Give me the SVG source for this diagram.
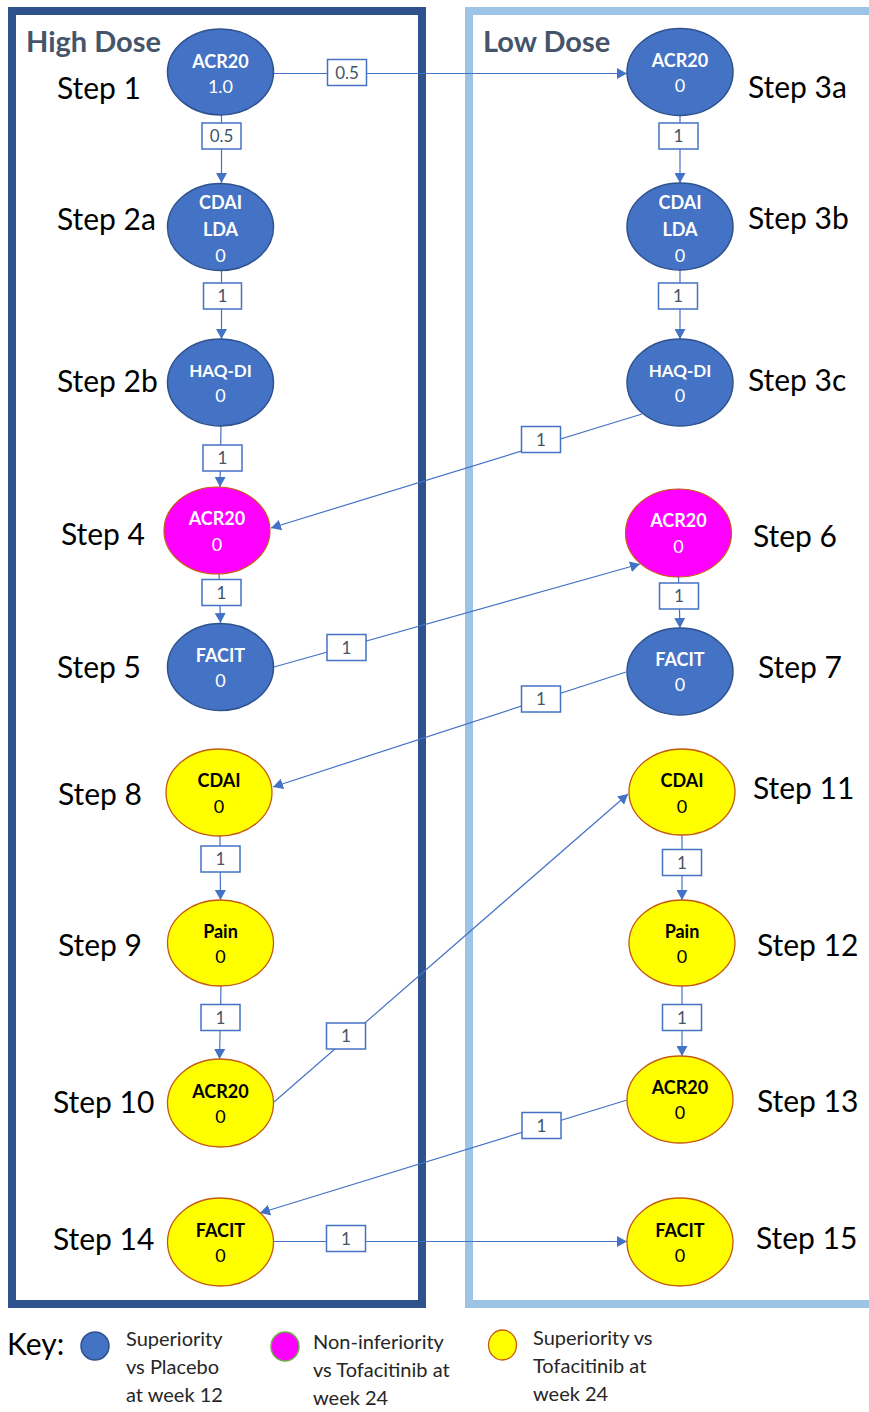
<svg xmlns="http://www.w3.org/2000/svg" width="869" height="1412" viewBox="0 0 869 1412">
<style>
text{font-family:Lato,"Liberation Sans",sans-serif}
.hd{font-size:29px;font-weight:bold;fill:#44546a}
.step{font-size:30px;fill:#000}
.blue{fill:#4472c4;stroke:#2f528f;stroke-width:1.5}
.mag{fill:#ff00ff;stroke:#c55a11;stroke-width:1.2}
.yel{fill:#ffff00;stroke:#c55a11;stroke-width:1.3}
.tw{font-size:18px;font-weight:bold;fill:#fff;text-anchor:middle}
.tws{font-size:17px;font-weight:bold;fill:#fff;text-anchor:middle}
.vw{font-size:18px;fill:#fff;text-anchor:middle}
.tb{font-size:18px;font-weight:bold;fill:#000;text-anchor:middle}
.vb{font-size:18px;fill:#000;text-anchor:middle}
.ln{stroke:#4472c4;stroke-width:1.2;fill:none;marker-end:url(#ah)}
.lb rect{fill:#fff;stroke:#4472c4;stroke-width:1.5}
.lb text{font-size:17px;fill:#44546a;text-anchor:middle}
.key{font-size:20px;fill:#262626}
</style>
<defs>
<marker id="ah" markerUnits="userSpaceOnUse" markerWidth="11" markerHeight="11" refX="10" refY="5.5" orient="auto">
<path d="M0,0 L10,5.5 L0,11 z" fill="#4472c4"/>
</marker>
</defs>
<rect width="869" height="1412" fill="#fff"/>
<g id="high-dose">
<rect x="12" y="11" width="410" height="1293" fill="none" stroke="#2f528f" stroke-width="8"/>
<text class="hd" x="26" y="52">High Dose</text>
</g>
<g id="low-dose">
<rect x="469" y="11" width="420" height="1293" fill="none" stroke="#9dc3e6" stroke-width="8"/>
<text class="hd" x="483" y="52">Low Dose</text>
</g>
<g id="connectors">
<line class="ln" x1="274" y1="73.5" x2="627" y2="73.5"/>
<line class="ln" x1="221.5" y1="115" x2="221.5" y2="183"/>
<line class="ln" x1="221.5" y1="270" x2="221.5" y2="339"/>
<line class="ln" x1="221" y1="426" x2="220" y2="487"/>
<line class="ln" x1="642" y1="414" x2="271" y2="528"/>
<line class="ln" x1="219" y1="574" x2="220.5" y2="623"/>
<line class="ln" x1="274" y1="667" x2="640" y2="564"/>
<line class="ln" x1="678.5" y1="577" x2="680" y2="628"/>
<line class="ln" x1="626" y1="672" x2="273" y2="787"/>
<line class="ln" x1="220" y1="836" x2="220.5" y2="900"/>
<line class="ln" x1="221" y1="986" x2="219.5" y2="1059"/>
<line class="ln" x1="274" y1="1102" x2="628" y2="794"/>
<line class="ln" x1="680" y1="115" x2="680" y2="183"/>
<line class="ln" x1="680" y1="270" x2="680" y2="339"/>
<line class="ln" x1="682" y1="835" x2="682" y2="900"/>
<line class="ln" x1="682" y1="986" x2="682" y2="1056"/>
<line class="ln" x1="627" y1="1100" x2="260" y2="1213"/>
<line class="ln" x1="274" y1="1241.5" x2="627" y2="1241.5"/>
<g class="lb"><rect x="327.5" y="59.5" width="39" height="26"/><text x="347" y="78.5">0.5</text></g>
<g class="lb"><rect x="202" y="123" width="39" height="26"/><text x="221.5" y="142">0.5</text></g>
<g class="lb"><rect x="203.5" y="283" width="38" height="26"/><text x="222.5" y="302">1</text></g>
<g class="lb"><rect x="203" y="445" width="39" height="26"/><text x="222.5" y="464">1</text></g>
<g class="lb"><rect x="202" y="579.5" width="39" height="26"/><text x="221.5" y="598.5">1</text></g>
<g class="lb"><rect x="327" y="634.5" width="39" height="26"/><text x="346.5" y="653.5">1</text></g>
<g class="lb"><rect x="201" y="846" width="39" height="26"/><text x="220.5" y="865">1</text></g>
<g class="lb"><rect x="201" y="1004.5" width="39" height="26"/><text x="220.5" y="1023.5">1</text></g>
<g class="lb"><rect x="326.5" y="1023" width="39" height="26"/><text x="346" y="1042">1</text></g>
<g class="lb"><rect x="326.5" y="1225.5" width="39" height="26"/><text x="346" y="1244.5">1</text></g>
<g class="lb"><rect x="659" y="123" width="39" height="26"/><text x="678.5" y="142">1</text></g>
<g class="lb"><rect x="658.5" y="283" width="39" height="26"/><text x="678" y="302">1</text></g>
<g class="lb"><rect x="521.5" y="426.5" width="39" height="26"/><text x="541" y="445.5">1</text></g>
<g class="lb"><rect x="659.5" y="583" width="39" height="26"/><text x="679" y="602">1</text></g>
<g class="lb"><rect x="521.5" y="686" width="39" height="26"/><text x="541" y="705">1</text></g>
<g class="lb"><rect x="662.5" y="849.5" width="39" height="26"/><text x="682" y="868.5">1</text></g>
<g class="lb"><rect x="662.5" y="1004.5" width="39" height="26"/><text x="682" y="1023.5">1</text></g>
<g class="lb"><rect x="522" y="1112.5" width="39" height="26"/><text x="541.5" y="1131.5">1</text></g>
</g>
<g id="step1"><ellipse class="blue" cx="220.5" cy="72" rx="53" ry="43"/><text class="tw" x="220.5" y="68">ACR20</text><text class="vw" x="220.5" y="93">1.0</text><text class="step" x="57" y="99">Step 1</text></g>
<g id="step2a"><ellipse class="blue" cx="220.5" cy="227" rx="53" ry="43.5"/><text class="tw" x="220.5" y="209">CDAI</text><text class="tw" x="220.5" y="236">LDA</text><text class="vw" x="220.5" y="262">0</text><text class="step" x="57" y="230">Step 2a</text></g>
<g id="step2b"><ellipse class="blue" cx="220.5" cy="382.5" rx="53" ry="43.5"/><text class="tws" x="220.5" y="377">HAQ-DI</text><text class="vw" x="220.5" y="402">0</text><text class="step" x="57" y="392">Step 2b</text></g>
<g id="step4"><ellipse class="mag" cx="217" cy="530.5" rx="53" ry="43.5"/><text class="tw" x="217" y="525">ACR20</text><text class="vw" x="217" y="551">0</text><text class="step" x="61" y="545">Step 4</text></g>
<g id="step5"><ellipse class="blue" cx="220.5" cy="667" rx="53" ry="43.5"/><text class="tw" x="220.5" y="662">FACIT</text><text class="vw" x="220.5" y="687">0</text><text class="step" x="57" y="678">Step 5</text></g>
<g id="step8"><ellipse class="yel" cx="219" cy="792.5" rx="53" ry="43.5"/><text class="tb" x="219" y="787">CDAI</text><text class="vb" x="219" y="813">0</text><text class="step" x="58" y="805">Step 8</text></g>
<g id="step9"><ellipse class="yel" cx="220.5" cy="943" rx="53" ry="43"/><text class="tb" x="220.5" y="938">Pain</text><text class="vb" x="220.5" y="963">0</text><text class="step" x="58" y="956">Step 9</text></g>
<g id="step10"><ellipse class="yel" cx="220.5" cy="1103" rx="53" ry="44"/><text class="tb" x="220.5" y="1098">ACR20</text><text class="vb" x="220.5" y="1123">0</text><text class="step" x="53" y="1113">Step 10</text></g>
<g id="step14"><ellipse class="yel" cx="220.5" cy="1242" rx="53" ry="44"/><text class="tb" x="220.5" y="1237">FACIT</text><text class="vb" x="220.5" y="1262">0</text><text class="step" x="53" y="1250">Step 14</text></g>
<g id="step3a"><ellipse class="blue" cx="680" cy="72" rx="53" ry="43.5"/><text class="tw" x="680" y="67">ACR20</text><text class="vw" x="680" y="92">0</text><text class="step" x="748" y="98">Step 3a</text></g>
<g id="step3b"><ellipse class="blue" cx="680" cy="226.5" rx="53" ry="43.5"/><text class="tw" x="680" y="209">CDAI</text><text class="tw" x="680" y="236">LDA</text><text class="vw" x="680" y="262">0</text><text class="step" x="748" y="229">Step 3b</text></g>
<g id="step3c"><ellipse class="blue" cx="680" cy="382.5" rx="53" ry="43.5"/><text class="tws" x="680" y="377">HAQ-DI</text><text class="vw" x="680" y="402">0</text><text class="step" x="748" y="391">Step 3c</text></g>
<g id="step6"><ellipse class="mag" cx="678.5" cy="533" rx="53" ry="44"/><text class="tw" x="678.5" y="527">ACR20</text><text class="vw" x="678.5" y="553">0</text><text class="step" x="753" y="547">Step 6</text></g>
<g id="step7"><ellipse class="blue" cx="680" cy="671.5" rx="53" ry="43.5"/><text class="tw" x="680" y="666">FACIT</text><text class="vw" x="680" y="691">0</text><text class="step" x="758" y="678">Step 7</text></g>
<g id="step11"><ellipse class="yel" cx="682" cy="792" rx="53" ry="43"/><text class="tb" x="682" y="787">CDAI</text><text class="vb" x="682" y="813">0</text><text class="step" x="753" y="799">Step 11</text></g>
<g id="step12"><ellipse class="yel" cx="682" cy="943" rx="53" ry="43"/><text class="tb" x="682" y="938">Pain</text><text class="vb" x="682" y="963">0</text><text class="step" x="757" y="956">Step 12</text></g>
<g id="step13"><ellipse class="yel" cx="680" cy="1099.5" rx="53" ry="43.5"/><text class="tb" x="680" y="1094">ACR20</text><text class="vb" x="680" y="1119">0</text><text class="step" x="757" y="1112">Step 13</text></g>
<g id="step15"><ellipse class="yel" cx="680" cy="1242" rx="53" ry="44"/><text class="tb" x="680" y="1237">FACIT</text><text class="vb" x="680" y="1262">0</text><text class="step" x="756" y="1249">Step 15</text></g>
<g id="key">
<text x="7" y="1355" style="font-size:30px;fill:#000">Key:</text>
<ellipse class="blue" cx="95" cy="1346" rx="14" ry="14"/>
<text class="key" x="126" y="1346">Superiority</text>
<text class="key" x="126" y="1374">vs Placebo</text>
<text class="key" x="126" y="1402">at week 12</text>
<ellipse cx="285" cy="1346.5" rx="14" ry="14.5" fill="#ff00ff" stroke="#70ad47" stroke-width="1.5"/>
<text class="key" x="313" y="1349">Non-inferiority</text>
<text class="key" x="313" y="1377">vs Tofacitinib at</text>
<text class="key" x="313" y="1405">week 24</text>
<ellipse class="yel" cx="502.5" cy="1345" rx="14" ry="15"/>
<text class="key" x="533" y="1345">Superiority vs</text>
<text class="key" x="533" y="1373">Tofacitinib at</text>
<text class="key" x="533" y="1401">week 24</text>
</g>
</svg>
